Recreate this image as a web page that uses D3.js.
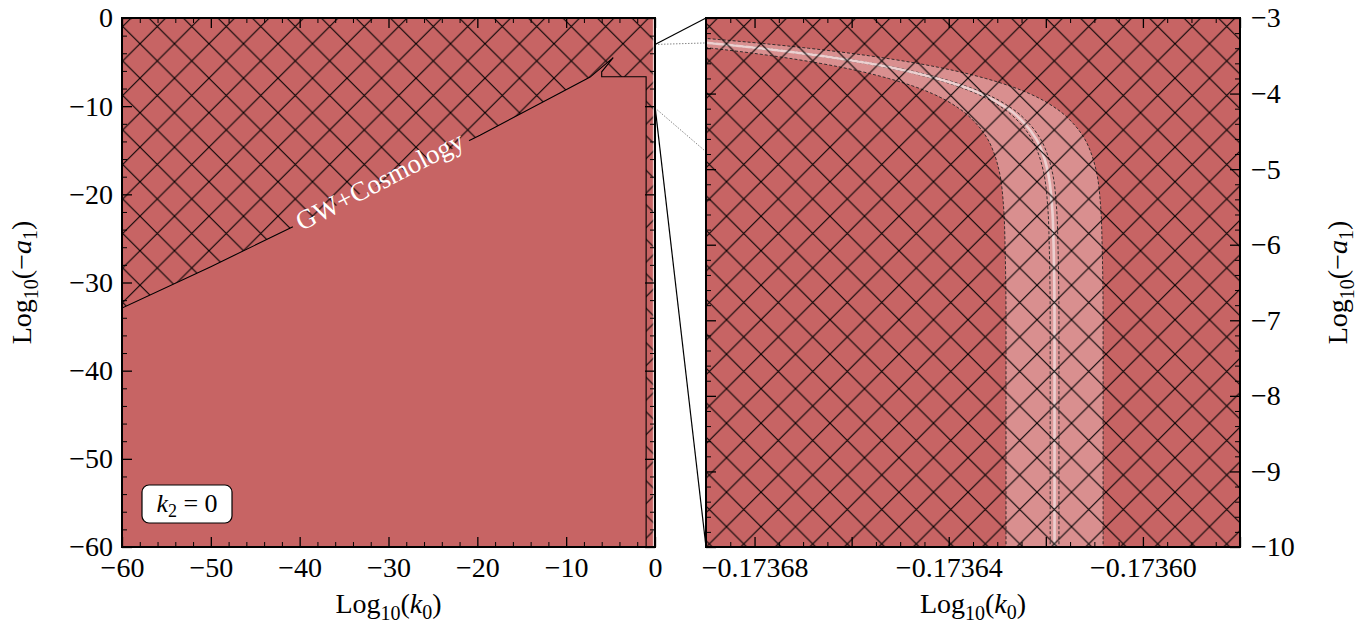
<!DOCTYPE html>
<html><head><meta charset="utf-8">
<script src="https://cdn.jsdelivr.net/npm/d3@7"></script>
<style>
body{margin:0;background:#fff}
svg{display:block}
text{font-family:"Liberation Serif","Times New Roman",serif}
</style>
</head><body>
<svg id="c" width="1365" height="625"></svg>
<script>
// ---------- data ----------
const leftK0Ticks = [-60, -50, -40, -30, -20, -10, 0];
const leftA1Ticks = [0, -10, -20, -30, -40, -50, -60];
const rightA1Ticks = [-3, -4, -5, -6, -7, -8, -9, -10];
const rightK0Ticks = [-0.17368, -0.17366, -0.17364, -0.17362, -0.17360, -0.17358];
const rightK0Labels = [-0.17368, -0.17364, -0.17360];

// excluded-region boundary (left panel)
const boundK0 = [-60, -50, -41.4, -30, -19.7, -10.7, -7.3, -4.7, -6.0, -6.0, -1.0, -1.0];
const boundA1 = [-32.9, -28.2, -24.0, -18.4, -13.3, -8.5, -6.7, -4.5, -6.1, -6.66, -6.66, -60];
const boundLabel = "GW+Cosmology";
const boundLabelK0 = -31.0, boundLabelA1 = -18.5;

// allowed band (right panel)
const bandA1 = [-3.0, -3.1, -3.2, -3.3, -3.4, -3.5, -3.6, -3.7, -3.8, -3.9, -4.0, -4.2, -4.4, -4.6, -4.8, -5.0, -5.5, -6.0, -7.0, -8.0, -9.0, -10.0];
const bandCenterK0 = [-0.1737706, -0.1737392, -0.1737144, -0.1736946, -0.1736789, -0.1736664, -0.1736565, -0.1736486, -0.1736424, -0.1736374, -0.1736334, -0.1736278, -0.1736243, -0.1736220, -0.1736206, -0.1736197, -0.1736187, -0.1736184, -0.1736182, -0.1736182, -0.1736182, -0.1736182];
const bandOuterHalf = 1.0e-5;
const bandInnerHalf = 0.9e-6;

// zoom connector dotted guides: [leftA1, rightA1]
const guideLeftA1 = [-3.0, -10.2];
const guideRightA1 = [-3.33, -4.77];

const zoomK0 = [-0.17369, -0.17358];
const zoomA1 = [-10, -3];

// ---------- styles ----------
const RED = "#c76464", BAND = "#d98f8f", FONT = 28;

const svg = d3.select("#c");
const defs = svg.append("defs");

// hatch pattern ("x")
const P = 34.5;
const pat = defs.append("pattern").attr("id", "hatch").attr("patternUnits", "userSpaceOnUse")
  .attr("width", P).attr("height", P).attr("patternTransform", "translate(2,9.2)");
pat.append("path").attr("d", `M-2,-2L${P+2},${P+2}M${P+2},-2L-2,${P+2}`)
  .attr("stroke", "#000").attr("stroke-width", 1.05).attr("fill", "none");

// scales
const L = {x0: 122, x1: 655, y0: 18, y1: 547};
const R = {x0: 706, x1: 1240, y0: 18, y1: 547};
const xL = d3.scaleLinear([-60, 0], [L.x0, L.x1]);
const yL = d3.scaleLinear([-60, 0], [L.y1, L.y0]);
const xR = d3.scaleLinear(zoomK0, [R.x0, R.x1]);
const yR = d3.scaleLinear(zoomA1, [R.y1, R.y0]);

defs.append("clipPath").attr("id", "clipL").append("rect")
  .attr("x", L.x0).attr("y", L.y0).attr("width", L.x1 - L.x0).attr("height", L.y1 - L.y0);
defs.append("clipPath").attr("id", "clipR").append("rect")
  .attr("x", R.x0).attr("y", R.y0).attr("width", R.x1 - R.x0).attr("height", R.y1 - R.y0);

// ---------- left panel ----------
const gL = svg.append("g").attr("clip-path", "url(#clipL)");
gL.append("rect").attr("x", L.x0).attr("y", L.y0).attr("width", L.x1 - L.x0).attr("height", L.y1 - L.y0).attr("fill", RED);

const bpts = boundK0.map((k, i) => [k, boundA1[i]]);
const poly = [[-60, 0], ...bpts, [0, -60], [0, 0]];
gL.append("path").attr("d", d3.line().x(d => xL(d[0])).y(d => yL(d[1]))(poly) + "Z")
  .attr("fill", "url(#hatch)");

// band centre visible as a thin line in the full view
gL.append("line").attr("x1", xL(bandCenterK0[bandCenterK0.length - 1])).attr("x2", xL(bandCenterK0[bandCenterK0.length - 1]))
  .attr("y1", L.y0).attr("y2", L.y1).attr("stroke", "#fff").attr("stroke-opacity", 0.7).attr("stroke-width", 1.2);

// label gap mask
const lx = xL(boundLabelK0), ly = yL(boundLabelA1), ang = -27.2;
const mask = defs.append("mask").attr("id", "gap").attr("maskUnits", "userSpaceOnUse")
  .attr("x", 0).attr("y", 0).attr("width", 1365).attr("height", 625);
mask.append("rect").attr("x", 0).attr("y", 0).attr("width", 1365).attr("height", 625).attr("fill", "#fff");
mask.append("rect").attr("x", -98).attr("y", -20).attr("width", 196).attr("height", 40)
  .attr("transform", `translate(${lx},${ly}) rotate(${ang})`).attr("fill", "#000");

gL.append("path").attr("d", d3.line().x(d => xL(d[0])).y(d => yL(d[1]))(bpts))
  .attr("fill", "none").attr("stroke", "#000").attr("stroke-width", 1.1).attr("mask", "url(#gap)");

gL.append("text").attr("transform", `translate(${lx},${ly}) rotate(${ang})`)
  .attr("text-anchor", "middle").attr("dominant-baseline", "central")
  .attr("fill", "#fff").attr("font-size", 27).text(boundLabel);

// k2 = 0 box
const box = svg.append("g").attr("transform", `translate(${L.x0 + 20},${L.y1 - 62})`);
box.append("rect").attr("x", 0).attr("y", 0).attr("width", 90).attr("height", 38).attr("rx", 7)
  .attr("fill", "#fff").attr("stroke", "#000").attr("stroke-width", 1.2);
const bt = box.append("text").attr("x", 45).attr("y", 27).attr("text-anchor", "middle").attr("font-size", 26);
bt.append("tspan").attr("font-style", "italic").text("k");
bt.append("tspan").attr("font-size", 18).attr("dy", 5).text("2");
bt.append("tspan").attr("dy", -5).text(" = 0");

// ---------- right panel ----------
const gR = svg.append("g").attr("clip-path", "url(#clipR)");
gR.append("rect").attr("x", R.x0).attr("y", R.y0).attr("width", R.x1 - R.x0).attr("height", R.y1 - R.y0).attr("fill", RED);

const band = bandA1.map((a, i) => ({a, c: bandCenterK0[i]}));
const curve = d3.curveMonotoneY;
const area = (h) => d3.area().curve(curve).y(d => yR(d.a)).x0(d => xR(d.c - h)).x1(d => xR(d.c + h));
const edge = (h) => d3.line().curve(curve).y(d => yR(d.a)).x(d => xR(d.c + h));

gR.append("path").attr("d", area(bandOuterHalf)(band)).attr("fill", BAND);
gR.append("path").attr("d", area(bandInnerHalf)(band)).attr("fill", "#dc9999");
[-bandOuterHalf, bandOuterHalf, -bandInnerHalf, bandInnerHalf].forEach(h => {
  gR.append("path").attr("d", edge(h)(band)).attr("fill", "none")
    .attr("stroke", "#222").attr("stroke-width", 0.9).attr("stroke-dasharray", "3,2");
});
gR.append("path").attr("d", edge(0)(band)).attr("fill", "none")
  .attr("stroke", "#ecd0d0").attr("stroke-width", 2.6);

gR.append("rect").attr("x", R.x0).attr("y", R.y0).attr("width", R.x1 - R.x0).attr("height", R.y1 - R.y0)
  .attr("fill", "url(#hatch)");

// ---------- connectors ----------
const cg = svg.append("g");
cg.append("line").attr("x1", L.x1).attr("y1", yL(zoomA1[1])).attr("x2", R.x0).attr("y2", R.y0)
  .attr("stroke", "#000").attr("stroke-width", 1.2);
cg.append("line").attr("x1", L.x1).attr("y1", yL(zoomA1[0])).attr("x2", R.x0).attr("y2", R.y1)
  .attr("stroke", "#000").attr("stroke-width", 1.2);
guideLeftA1.forEach((a, i) => {
  cg.append("line").attr("x1", L.x1).attr("y1", yL(a)).attr("x2", R.x0).attr("y2", yR(guideRightA1[i]))
    .attr("stroke", "#888").attr("stroke-width", 1).attr("stroke-dasharray", "1.5,1.5");
});

// ---------- axes ----------
function minorsBetween(lo, hi, step, majors) {
  const n = Math.round((hi - lo) / step);
  return d3.range(n + 1).map(i => lo + i * step)
    .filter(v => !majors.some(m => Math.abs(m - v) < step * 0.01));
}
function styleAxis(g) {
  g.select(".domain").remove();
  g.attr("font-family", null).attr("font-size", FONT);
  g.selectAll("line").attr("stroke", "#000");
}
function drawAxes(box, x, y, o) {
  const mk = (axis, tx, ty, vals, size, fmt, pad, sw) => {
    const g = svg.append("g").attr("transform", `translate(${tx},${ty})`)
      .call(axis.tickValues(vals).tickSizeInner(-size).tickSizeOuter(0).tickPadding(pad).tickFormat(fmt));
    styleAxis(g);
    g.selectAll("line").attr("stroke-width", sw);
    return g;
  };
  const none = () => "";
  // majors
  mk(d3.axisBottom(x), 0, box.y1, o.xMaj, 10, o.xFmt, 10, 1.3);
  mk(d3.axisTop(x), 0, box.y0, o.xMaj, 10, none, 0, 1.3);
  mk(d3.axisLeft(y), box.x0, 0, o.yMaj, 10, o.yLeftFmt, 9, 1.3);
  mk(d3.axisRight(y), box.x1, 0, o.yMaj, 10, o.yRightFmt, 11, 1.3);
  // minors
  mk(d3.axisBottom(x), 0, box.y1, o.xMin, 5, none, 0, 1);
  mk(d3.axisTop(x), 0, box.y0, o.xMin, 5, none, 0, 1);
  mk(d3.axisLeft(y), box.x0, 0, o.yMin, 5, none, 0, 1);
  mk(d3.axisRight(y), box.x1, 0, o.yMin, 5, none, 0, 1);
  // frame
  svg.append("rect").attr("x", box.x0).attr("y", box.y0).attr("width", box.x1 - box.x0).attr("height", box.y1 - box.y0)
    .attr("fill", "none").attr("stroke", "#000").attr("stroke-width", 2);
}
const intFmt = d3.format("d");
drawAxes(L, xL, yL, {
  xMaj: leftK0Ticks, yMaj: leftA1Ticks,
  xMin: minorsBetween(-60, 0, 2, leftK0Ticks), yMin: minorsBetween(-60, 0, 2, leftA1Ticks),
  xFmt: intFmt, yLeftFmt: intFmt, yRightFmt: () => ""
});
const f5 = d3.format(".5f");
drawAxes(R, xR, yR, {
  xMaj: rightK0Ticks, yMaj: rightA1Ticks,
  xMin: minorsBetween(zoomK0[0], zoomK0[1], 0.000005, rightK0Ticks),
  yMin: minorsBetween(-10, -3, 0.2, rightA1Ticks),
  xFmt: d => rightK0Labels.some(v => Math.abs(v - d) < 1e-9) ? f5(d) : "",
  yLeftFmt: () => "", yRightFmt: intFmt
});

// ---------- titles ----------
function logTitle(g, sym, sub, minus) {
  const t = g.append("text").attr("text-anchor", "middle").attr("font-size", FONT);
  t.append("tspan").text("Log");
  t.append("tspan").attr("font-size", 20).attr("dy", 7).text("10");
  t.append("tspan").attr("dy", -7).text(minus ? "(\u2212" : "(");
  t.append("tspan").attr("font-style", "italic").text(sym);
  t.append("tspan").attr("font-size", 20).attr("dy", 6).text(sub);
  t.append("tspan").attr("dy", -6).text(")");
  return t;
}
logTitle(svg.append("g").attr("transform", `translate(${(L.x0 + L.x1) / 2},613)`), "k", "0", false);
logTitle(svg.append("g").attr("transform", `translate(${(R.x0 + R.x1) / 2},613)`), "k", "0", false);
logTitle(svg.append("g").attr("transform", `translate(31,${(L.y0 + L.y1) / 2}) rotate(-90)`), "a", "1", true);
logTitle(svg.append("g").attr("transform", `translate(1347,${(R.y0 + R.y1) / 2}) rotate(-90)`), "a", "1", true);
</script>
</body></html>
